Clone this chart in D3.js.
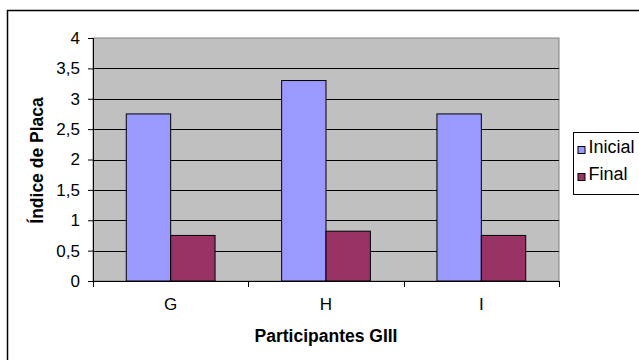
<!DOCTYPE html>
<html>
<head>
<meta charset="utf-8">
<script src="https://cdn.jsdelivr.net/npm/d3@7"></script>
<style>
  html, body { margin: 0; padding: 0; background: #fff; }
  svg { display: block; }
  svg text { font-family: Arial, "Liberation Sans", sans-serif; font-size: 17px; fill: #000; }
  svg text.title { font-weight: bold; font-size: 17.5px; }
  svg .x-axis text { font-size: 17px; }
  svg .legend text { font-size: 18px; }
</style>
</head>
<body>
<svg id="chart" width="639" height="360"></svg>
<script>
// Índice de Placa por participante (grupo III)
const categories = ["G", "H", "I"];
const seriesNames = ["Inicial", "Final"];
const inicial = [2.75, 3.3, 2.75];
const final = [0.75, 0.82, 0.75];
const yTicks = [0, 0.5, 1, 1.5, 2, 2.5, 3, 3.5, 4];
const colors = ["#9999ff", "#993366"];

const svg = d3.select("#chart");
const plot = { left: 93, top: 38, right: 559, bottom: 281 };

// chart frame
svg.append("rect")
  .attr("x", 7.5).attr("y", 10.5)
  .attr("width", 660).attr("height", 400)
  .attr("fill", "#fff").attr("stroke", "#000").attr("stroke-width", 1.5);

const x = d3.scaleBand().domain(categories).range([plot.left, plot.right]);
const inner = d3.scaleBand().domain(seriesNames)
  .range([0, x.bandwidth()]).paddingOuter(0.75).paddingInner(0);
const y = d3.scaleLinear().domain([0, 4]).range([plot.bottom, plot.top]);

// plot area
svg.append("rect")
  .attr("x", plot.left).attr("y", plot.top)
  .attr("width", plot.right - plot.left).attr("height", plot.bottom - plot.top)
  .attr("fill", "#c0c0c0").attr("stroke", "#808080").attr("stroke-width", 1);

// gridlines
svg.append("g").selectAll("line")
  .data(yTicks.filter(d => d > 0 && d < 4))
  .join("line")
  .attr("x1", plot.left).attr("x2", plot.right)
  .attr("y1", d => Math.round(y(d)) + 0.5).attr("y2", d => Math.round(y(d)) + 0.5)
  .attr("stroke", "#000").attr("stroke-width", 1);

// bars
const rows = categories.map((c, i) => ({ cat: c, values: [inicial[i], final[i]] }));
const groups = svg.append("g").selectAll("g")
  .data(rows).join("g")
  .attr("transform", d => `translate(${x(d.cat)},0)`);
groups.selectAll("rect")
  .data(d => d.values.map((v, j) => ({ name: seriesNames[j], v, j })))
  .join("rect")
  .attr("x", d => inner(d.name))
  .attr("width", inner.bandwidth())
  .attr("y", d => y(d.v))
  .attr("height", d => y(0) - y(d.v))
  .attr("fill", d => colors[d.j])
  .attr("stroke", "#000").attr("stroke-width", 1);

// y axis
const yAxis = svg.append("g")
  .attr("transform", `translate(${plot.left},0)`)
  .call(d3.axisLeft(y).tickValues(yTicks).tickSize(5).tickPadding(8)
    .tickFormat(d => String(d).replace(".", ",")));
yAxis.select(".domain").attr("stroke", "#000");

// x axis
const xAxis = svg.append("g").attr("class", "x-axis")
  .attr("transform", `translate(0,${plot.bottom})`)
  .call(d3.axisBottom(x).tickSize(0).tickPadding(17));
xAxis.select(".domain").remove();
svg.append("line")
  .attr("x1", plot.left).attr("x2", plot.right)
  .attr("y1", plot.bottom + 0.5).attr("y2", plot.bottom + 0.5)
  .attr("stroke", "#000");
svg.append("g").selectAll("line")
  .data(categories.map(c => x(c)).concat([plot.right]))
  .join("line")
  .attr("x1", d => Math.round(d) + 0.5).attr("x2", d => Math.round(d) + 0.5)
  .attr("y1", plot.bottom).attr("y2", plot.bottom + 6)
  .attr("stroke", "#000");

// axis titles
svg.append("text").attr("class", "title")
  .attr("x", (plot.left + plot.right) / 2).attr("y", 342)
  .attr("text-anchor", "middle")
  .text("Participantes GIII");
svg.append("text").attr("class", "title")
  .attr("transform", `translate(43,${(plot.top + plot.bottom) / 2 + 1}) rotate(-90)`)
  .attr("text-anchor", "middle")
  .text("Índice de Placa");

// legend
const legend = svg.append("g").attr("class", "legend").attr("transform", "translate(573.5,132.5)");
legend.append("rect")
  .attr("width", 80).attr("height", 62)
  .attr("fill", "#fff").attr("stroke", "#000").attr("stroke-width", 1);
const items = legend.selectAll("g.item")
  .data(seriesNames).join("g").attr("class", "item")
  .attr("transform", (d, i) => `translate(0,${20 + i * 27})`);
items.append("rect")
  .attr("x", 4.5).attr("y", -6).attr("width", 7).attr("height", 7)
  .attr("fill", (d, i) => colors[i]).attr("stroke", "#000").attr("stroke-width", 1);
items.append("text")
  .attr("x", 15).attr("y", 0.5)
  .text(d => d);
</script>
</body>
</html>
